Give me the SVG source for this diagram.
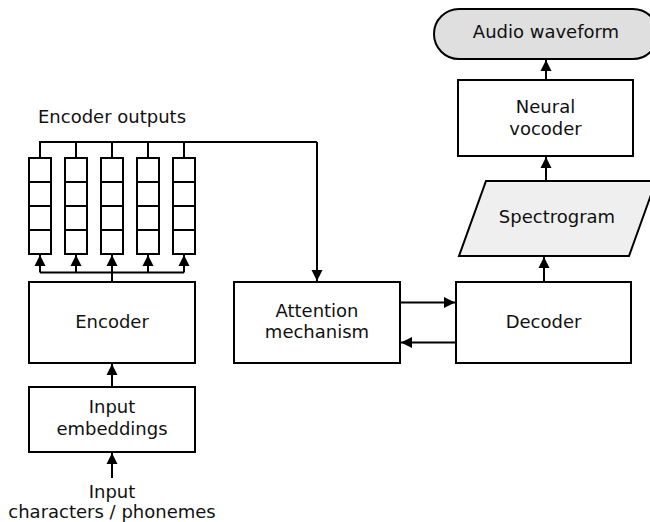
<svg xmlns="http://www.w3.org/2000/svg" width="650" height="522" viewBox="0 0 650 522">
<defs>
<marker id="ah" markerUnits="userSpaceOnUse" markerWidth="12" markerHeight="12" refX="11" refY="6" orient="auto">
<path d="M0,0.5 L11,6 L0,11.5 z" fill="#000"/>
</marker>
<style>
.box{fill:#fff;stroke:#000;stroke-width:2}
.t{font-family:"DejaVu Sans","Liberation Sans",sans-serif;font-size:18px;fill:#111;text-anchor:middle}
.c{fill:none;stroke:#000;stroke-width:2}
.a{fill:none;stroke:#000;stroke-width:2;marker-end:url(#ah)}
.cell{fill:#fff;stroke:#000;stroke-width:2}
</style>
</defs>
<rect width="650" height="522" fill="#fff"/>

<g id="connectors">
<path class="c" d="M40,158 V142 H317"/>
<path class="c" d="M76,158 V142 M112,158 V142 M148,158 V142 M184,158 V142"/>
<path class="a" d="M317,142 V281"/>
<path class="c" d="M112,282 V272.5 M40,272.5 H184"/>
<path class="a" d="M40,272.5 V255"/>
<path class="a" d="M76,272.5 V255"/>
<path class="a" d="M112,272.5 V255"/>
<path class="a" d="M148,272.5 V255"/>
<path class="a" d="M184,272.5 V255"/>
<path class="a" d="M112,387 V364"/>
<path class="a" d="M112,478 V453"/>
<path class="a" d="M400,302.5 H455"/>
<path class="a" d="M456,342.5 H401"/>
<path class="a" d="M544,282 V257"/>
<path class="a" d="M546,181 V157"/>
<path class="a" d="M546,80 V60"/>
</g>

<g id="encoder-outputs">
<text class="t" x="112" y="123">Encoder outputs</text>
<g id="col1"><rect class="cell" x="29" y="158" width="22" height="24"/><rect class="cell" x="29" y="182" width="22" height="24"/><rect class="cell" x="29" y="206" width="22" height="24"/><rect class="cell" x="29" y="230" width="22" height="24"/></g>
<g id="col2"><rect class="cell" x="65" y="158" width="22" height="24"/><rect class="cell" x="65" y="182" width="22" height="24"/><rect class="cell" x="65" y="206" width="22" height="24"/><rect class="cell" x="65" y="230" width="22" height="24"/></g>
<g id="col3"><rect class="cell" x="101" y="158" width="22" height="24"/><rect class="cell" x="101" y="182" width="22" height="24"/><rect class="cell" x="101" y="206" width="22" height="24"/><rect class="cell" x="101" y="230" width="22" height="24"/></g>
<g id="col4"><rect class="cell" x="137" y="158" width="22" height="24"/><rect class="cell" x="137" y="182" width="22" height="24"/><rect class="cell" x="137" y="206" width="22" height="24"/><rect class="cell" x="137" y="230" width="22" height="24"/></g>
<g id="col5"><rect class="cell" x="173" y="158" width="22" height="24"/><rect class="cell" x="173" y="182" width="22" height="24"/><rect class="cell" x="173" y="206" width="22" height="24"/><rect class="cell" x="173" y="230" width="22" height="24"/></g>
</g>

<g id="encoder">
<rect class="box" x="29" y="282" width="166" height="81"/>
<text class="t" x="112" y="328">Encoder</text>
</g>

<g id="input-embeddings">
<rect class="box" x="29" y="387" width="166" height="65"/>
<text class="t" x="112" y="413">Input</text>
<text class="t" x="112" y="435">embeddings</text>
</g>

<g id="input">
<text class="t" x="112" y="498">Input</text>
<text class="t" x="112" y="518">characters / phonemes</text>
</g>

<g id="attention">
<rect class="box" x="234" y="282" width="166" height="81"/>
<text class="t" x="317" y="317">Attention</text>
<text class="t" x="317" y="338">mechanism</text>
</g>

<g id="decoder">
<rect class="box" x="456" y="282" width="175" height="81"/>
<text class="t" x="543.5" y="328">Decoder</text>
</g>

<g id="spectrogram">
<polygon points="486,181 656,181 629,256 459,256" fill="#efefef" stroke="#000" stroke-width="2"/>
<text class="t" x="557" y="223">Spectrogram</text>
</g>

<g id="vocoder">
<rect class="box" x="458" y="80" width="175" height="76"/>
<text class="t" x="545.5" y="113">Neural</text>
<text class="t" x="545.5" y="135">vocoder</text>
</g>

<g id="audio">
<rect x="434" y="9" width="224" height="50" rx="25" ry="25" fill="#dfdfdf" stroke="#000" stroke-width="2"/>
<text class="t" x="546" y="38">Audio waveform</text>
</g>
</svg>
